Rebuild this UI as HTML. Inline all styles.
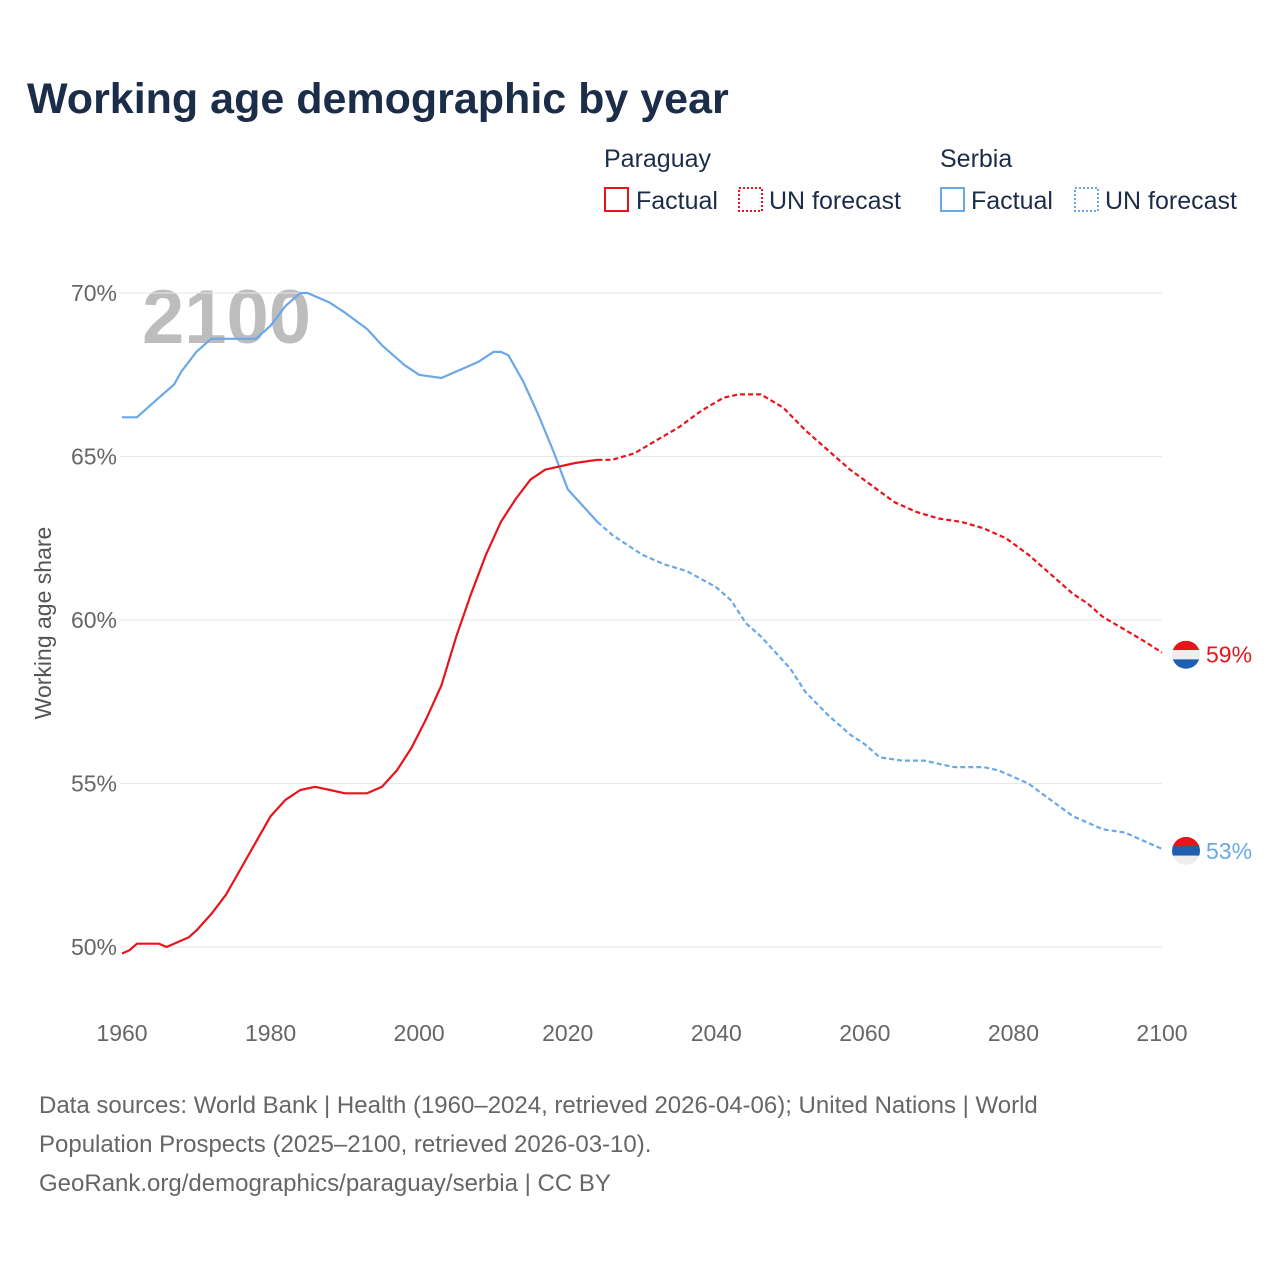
<!DOCTYPE html>
<html><head><meta charset="utf-8"><style>
body{margin:0;background:#fff;width:1280px;height:1280px;overflow:hidden;font-family:"Liberation Sans",sans-serif}
</style></head><body>
<svg width="1280" height="1280" xmlns="http://www.w3.org/2000/svg" id="chart">
<text x="27" y="113" font-size="43" font-weight="bold" fill="#1b2d48">Working age demographic by year</text>
<g font-size="25" fill="#1b2d48">
<text x="604" y="167">Paraguay</text>
<text x="940" y="167">Serbia</text>
<rect x="605" y="188" width="23" height="23" fill="none" stroke="#e8141c" stroke-width="2"/>
<text x="636" y="209">Factual</text>
<rect x="739" y="188" width="23" height="23" fill="none" stroke="#e8141c" stroke-width="2" stroke-dasharray="2,2"/>
<text x="769" y="209">UN forecast</text>
<rect x="941" y="188" width="23" height="23" fill="none" stroke="#6aa8e8" stroke-width="2"/>
<text x="971" y="209">Factual</text>
<rect x="1075" y="188" width="23" height="23" fill="none" stroke="#6aa8e8" stroke-width="2" stroke-dasharray="2,2"/>
<text x="1105" y="209">UN forecast</text>
</g>
<text x="142" y="343" font-size="76" font-weight="bold" fill="#bdbdbd">2100</text>
<text transform="translate(51,623) rotate(-90)" text-anchor="middle" font-size="23" fill="#555">Working age share</text>
<g id="grid"></g><g id="series"></g>
<g font-size="24" fill="#666">
<text x="39" y="1113">Data sources: World Bank | Health (1960–2024, retrieved 2026-04-06); United Nations | World</text>
<text x="39" y="1152">Population Prospects (2025–2100, retrieved 2026-03-10).</text>
<text x="39" y="1191">GeoRank.org/demographics/paraguay/serbia | CC BY</text>
</g>
</svg>
<script>
const yTicks=[50,55,60,65,70];
const xTicks=[1960,1980,2000,2020,2040,2060,2080,2100];
const pyFactYears=[1960,1961,1962,1965,1966,1968,1969,1970,1972,1974,1976,1978,1980,1982,1984,1986,1988,1990,1993,1995,1997,1999,2001,2003,2005,2007,2009,2011,2013,2015,2017,2019,2021,2024];
const pyFactVals=[49.8,49.9,50.1,50.1,50.0,50.2,50.3,50.5,51.0,51.6,52.4,53.2,54.0,54.5,54.8,54.9,54.8,54.7,54.7,54.9,55.4,56.1,57.0,58.0,59.5,60.8,62.0,63.0,63.7,64.3,64.6,64.7,64.8,64.9];
const pyFcYears=[2024,2026,2029,2032,2035,2038,2041,2043,2046,2049,2052,2055,2058,2061,2064,2067,2070,2073,2076,2079,2082,2085,2088,2090,2092,2095,2098,2100];
const pyFcVals=[64.9,64.9,65.1,65.5,65.9,66.4,66.8,66.9,66.9,66.5,65.8,65.2,64.6,64.1,63.6,63.3,63.1,63.0,62.8,62.5,62.0,61.4,60.8,60.5,60.1,59.7,59.3,59.0];
const rsFactYears=[1960,1962,1963,1965,1967,1968,1970,1972,1975,1978,1980,1982,1984,1985,1988,1990,1993,1995,1998,2000,2003,2005,2008,2010,2011,2012,2014,2016,2018,2020,2022,2024];
const rsFactVals=[66.2,66.2,66.4,66.8,67.2,67.6,68.2,68.6,68.6,68.6,69.0,69.6,70.0,70.0,69.7,69.4,68.9,68.4,67.8,67.5,67.4,67.6,67.9,68.2,68.2,68.1,67.3,66.3,65.2,64.0,63.5,63.0];
const rsFcYears=[2024,2026,2030,2033,2036,2040,2042,2044,2046,2050,2052,2055,2058,2060,2062,2065,2068,2070,2072,2076,2078,2082,2085,2088,2090,2092,2095,2098,2100];
const rsFcVals=[63.0,62.6,62.0,61.7,61.5,61.0,60.6,59.9,59.5,58.5,57.8,57.1,56.5,56.2,55.8,55.7,55.7,55.6,55.5,55.5,55.4,55.0,54.5,54.0,53.8,53.6,53.5,53.2,53.0];
const X=y=>122+(y-1960)*(1162-122)/140;
const Y=v=>947-(v-50)*(947-293)/20;
const NS='http://www.w3.org/2000/svg';
const grid=document.getElementById('grid'),ser=document.getElementById('series');
function mk(tag,attrs,parent){const e=document.createElementNS(NS,tag);for(const k in attrs)e.setAttribute(k,attrs[k]);parent.appendChild(e);return e;}
yTicks.forEach(v=>{
 const l=mk('line',{x1:120,x2:1162,y1:Y(v),y2:Y(v),stroke:'#e6e6e6','stroke-width':1},grid);
 
 
 const t=mk('text',{x:117,y:Y(v)+8,'text-anchor':'end','font-size':23,fill:'#666'},grid);
 t.textContent=v+'%';
 
 
});
xTicks.forEach(v=>{
 const t=mk('text',{x:X(v),y:1041,'text-anchor':'middle','font-size':23,fill:'#666'},grid);
 t.textContent=v;
 
 
});
function line(ys,vs,color,dash,name){
 const d=ys.map((y,i)=>(i?'L':'M')+X(y).toFixed(1)+','+Y(vs[i]).toFixed(1)).join(' ');
 const p=mk('path',{d:d,fill:'none',stroke:color,'stroke-width':2.2,'stroke-linejoin':'round'},ser);
 if(dash)p.setAttribute('stroke-dasharray','5,3');
 
 
}
line(rsFactYears,rsFactVals,'#6aa8e8',false,'serbia-factual-line');
line(rsFcYears,rsFcVals,'#6aa8e8',true,'serbia-forecast-line');
line(pyFactYears,pyFactVals,'#e8141c',false,'paraguay-factual-line');
line(pyFcYears,pyFcVals,'#e8141c',true,'paraguay-forecast-line');
function endLabel(v,color,name,flag){
 const cx=1186,cy=Y(v)+2;
 const g=mk('g',{},ser);
 
 
 const cols=flag;
 mk('clipPath',{id:'c'+name},g);
 const cp=g.lastChild;mk('circle',{cx:cx,cy:cy,r:14},cp);
 cols.forEach((c,i)=>mk('rect',{x:cx-14,y:cy-14+i*28/3,width:28,height:28/3+0.5,fill:c,'clip-path':'url(#c'+name+')'},g));
 const t=mk('text',{x:1206,y:Y(v)+10,'font-size':23,fill:color},ser);
 t.textContent=Math.round(v)+'%';
 
 
}
endLabel(pyFcVals[pyFcVals.length-1],'#e8141c','paraguay',['#e8141c','#eeeeee','#1f5fb0']);
endLabel(rsFcVals[rsFcVals.length-1],'#6aa8e8','serbia',['#e8141c','#1f5fb0','#eeeeee']);
</script>
</body></html>
